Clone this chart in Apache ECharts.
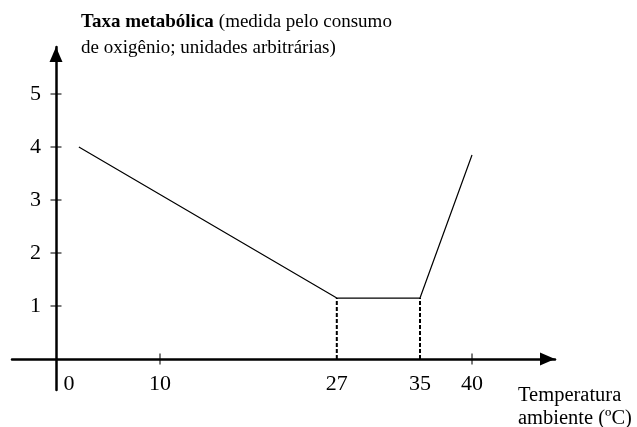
<!DOCTYPE html>
<html><head><meta charset="utf-8">
<script src="https://cdn.jsdelivr.net/npm/echarts@6/dist/echarts.min.js"></script>
<style>html,body{margin:0;padding:0;background:#fff}#c{width:637px;height:427px}</style>
</head><body><div id="c"></div>
<script>
// Data
var curveX = [2.2, 27, 35, 40];
var curveY = [4, 1.15, 1.15, 3.85];
var dashX = [27, 35];
var dashTop = 1.15;
var xTickLabels = [0, 10, 27, 35, 40];
var xTickMarks = [10, 40];
var yTickLabels = [1, 2, 3, 4, 5];

var FONT = '"Liberation Serif", "Times New Roman", serif';
var chart = echarts.init(document.getElementById('c'));

var curve = curveX.map(function(x, i){ return [x, curveY[i]]; });
var dashSeries = dashX.map(function(x){
  return {type:'line', data:[[x,0],[x,dashTop]], symbol:'none', silent:true,
    lineStyle:{color:'#000', width:2, type:[4,2]}, z:3};
});
var xt = xTickMarks.map(function(x){ return [x,0]; });
var yt = yTickLabels.map(function(y){ return [0,y]; });

chart.setOption({
  animation:false,
  backgroundColor:'#fff',
  title:{
    left:76, top:4, padding:5,
    text:'{b|Taxa metabólica} {n|(medida pelo consumo}\n{n|de oxigênio; unidades arbitrárias)}',
    textStyle:{fontWeight:'normal', rich:{
      b:{fontFamily:FONT, fontWeight:'bold', fontSize:19, color:'#000', lineHeight:26},
      n:{fontFamily:FONT, fontWeight:'normal', fontSize:19, color:'#000', lineHeight:26}
    }}
  },
  graphic:[{type:'text', left:518, top:384, style:{text:'Temperatura\nambiente (ºC)', font:'20.5px '+FONT, fill:'#000', lineHeight:23}}],
  grid:{left:12, right:82, top:47, bottom:37, containLabel:false, outerBoundsMode:'none'},
  xAxis:{type:'value', min:-4.23, max:47.98, position:'bottom', offset:-31,
    axisLine:{onZero:false, lineStyle:{color:'#000', width:2.5}, symbol:['none','triangle'], symbolSize:[13,15], symbolOffset:[0,-7.5]},
    axisTick:{show:false}, splitLine:{show:false},
    axisLabel:{customValues:xTickLabels, color:'#000', fontFamily:FONT, fontSize:22, margin:14,
      formatter:function(v){ return v===0 ? '{z|0}' : String(v); },
      rich:{z:{fontFamily:FONT, fontSize:22, color:'#000', padding:[0,0,0,26]}}}
  },
  yAxis:{type:'value', min:-0.585, max:5.887, position:'left', offset:-44,
    axisLine:{onZero:false, lineStyle:{color:'#000', width:2.5}, symbol:['none','triangle'], symbolSize:[13,15], symbolOffset:[0,-7.5]},
    axisTick:{show:false}, splitLine:{show:false},
    axisLabel:{customValues:yTickLabels, color:'#000', fontFamily:FONT, fontSize:22, margin:15}
  },
  series:[
    {type:'line', data:curve, symbol:'none', lineStyle:{color:'#000', width:1.2}, z:4},
  ].concat(dashSeries).concat([
    {type:'scatter', data:xt, symbol:'rect', symbolSize:[1.3,11], itemStyle:{color:'#000'}, z:5, silent:true},
    {type:'scatter', data:yt, symbol:'rect', symbolSize:[11,1.3], itemStyle:{color:'#000'}, z:5, silent:true}
  ])
});
</script></body></html>
